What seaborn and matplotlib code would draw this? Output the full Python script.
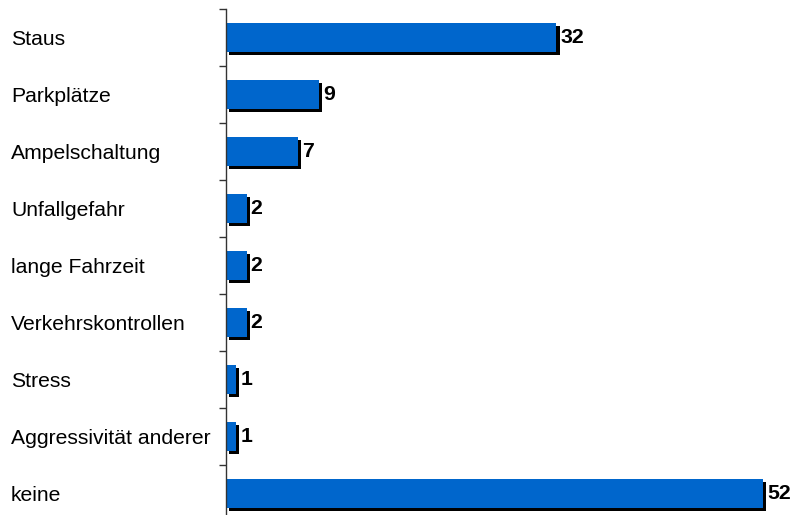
import matplotlib
matplotlib.use("Agg")
import matplotlib.pyplot as plt
import matplotlib.patheffects as pe
import seaborn as sns
import pandas as pd
import numpy as np

categories = ["Staus", "Parkplätze", "Ampelschaltung", "Unfallgefahr", "lange Fahrzeit",
              "Verkehrskontrollen", "Stress", "Aggressivität anderer", "keine"]
values = [32, 9, 7, 2, 2, 2, 1, 1, 52]

sns.set_style("white")
plt.rcParams['font.family'] = ['Liberation Sans', 'DejaVu Sans']

df = pd.DataFrame({"cat": categories, "val": values})

fig = plt.figure(figsize=(7.94, 5.15), dpi=100)
ax = fig.add_axes([226/794, (515-522)/515, 1 - 226/794, (522-9)/515])

sns.barplot(data=df, x="val", y="cat", order=categories, color="#0066CC",
            saturation=1, width=0.52, ax=ax, orient="h")
for p in ax.patches:
    p.set_path_effects([pe.SimplePatchShadow(offset=(2.2, -2.2), shadow_rgbFace="black", alpha=1),
                        pe.Normal()])
    p.set_edgecolor("none")

ax.set_xlim(0, 55)
n = len(categories)
ax.set_ylim(n - 0.5, -0.5)

for i, v in enumerate(values):
    ax.annotate(str(v), xy=(v, i), xytext=(2.8, 0), textcoords="offset points",
                ha="left", va="center", fontsize=15.3, fontweight="bold", color="black")

ax.set_yticks(np.arange(-0.5, n, 1.0))
ax.set_yticklabels([])
ax.set_yticks(np.arange(n), minor=True)
ax.set_yticklabels(categories, minor=True, ha="left", fontsize=15.2, color="black")
ax.tick_params(axis="y", which="minor", length=0, pad=(226 - 11) * 0.72, labelcolor="black")
ax.tick_params(axis="y", which="major", length=5, width=1, color="#333333", direction="out", left=True)
ax.set_xticks([])
ax.set_xlabel("")
ax.set_ylabel("")
for s in ["top", "right", "bottom"]:
    ax.spines[s].set_visible(False)
ax.spines["left"].set_color("#333333")
ax.spines["left"].set_linewidth(1)

fig.savefig("out.png", dpi=100)
